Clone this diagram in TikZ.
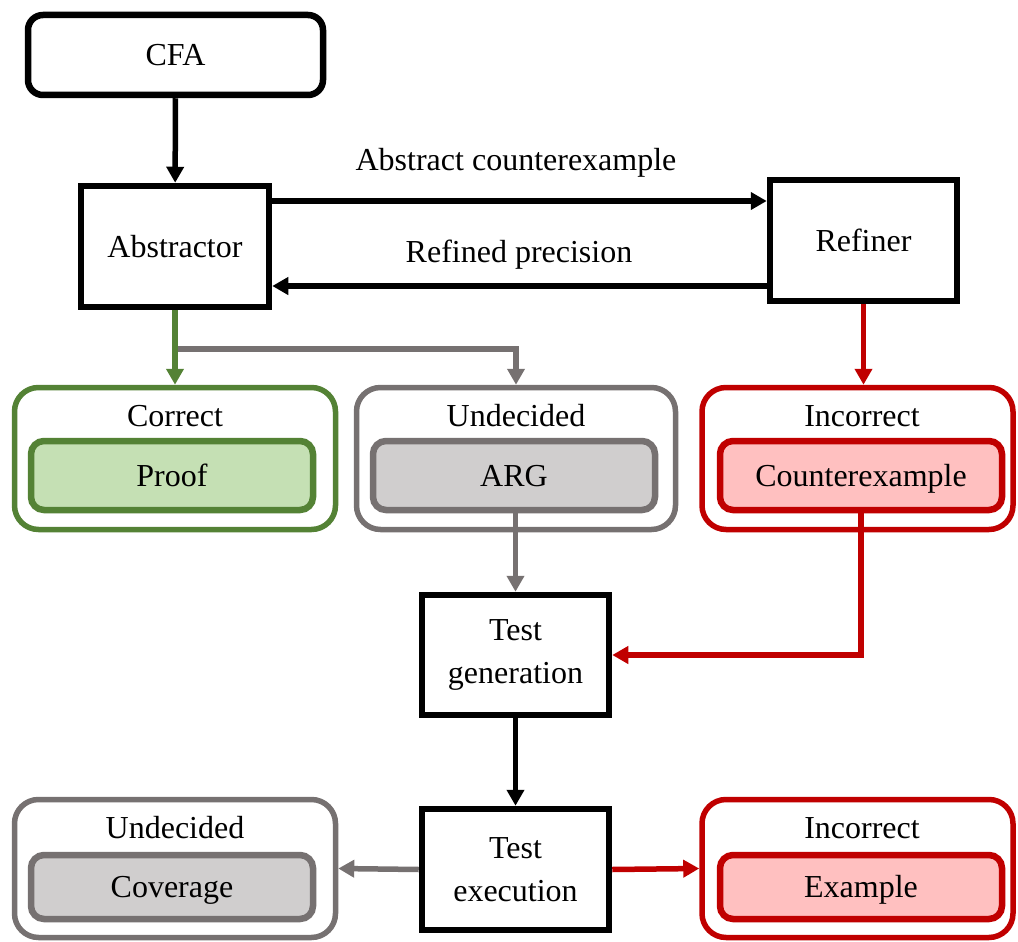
\documentclass[tikz,border=0pt]{standalone}
\usepackage{fontspec}
\setmainfont{Liberation Serif}
\usetikzlibrary{arrows.meta}

\definecolor{okgreen}{HTML}{548235}
\definecolor{okfill}{HTML}{C5E0B4}
\definecolor{midgray}{HTML}{767171}
\definecolor{grayfill}{HTML}{D0CECE}
\definecolor{badred}{HTML}{C00000}
\definecolor{redfill}{HTML}{FFC0C0}

\tikzset{
  txt/.style={font=\fontsize{32}{43}\selectfont, align=center, inner sep=0pt},
  block/.style={txt, draw=black, line width=6.5pt, fill=white},
  outerbox/.style={draw=#1, line width=5.5pt, rounded corners=24pt, fill=white, inner sep=0pt},
  innerbox/.style 2 args={txt, text height=22pt, text depth=1pt, draw=#1, fill=#2,
    line width=6.5pt, rounded corners=13pt, minimum width=282pt, minimum height=69pt},
  flow/.style={draw=#1, line width=5.5pt, -{Triangle[length=16pt,width=17pt]}},
  flow/.default=black
}

\begin{document}
\begin{tikzpicture}[x=1pt,y=-1pt]
  \useasboundingbox (0,0) rectangle (1018,942);

  % main processing blocks
  \node[block, rounded corners=15pt, minimum width=295pt, minimum height=80pt] (cfa) at (175.5,55) {CFA};
  \node[block, minimum width=188pt, minimum height=121pt] (abs) at (175,246.5) {Abstractor};
  \node[block, minimum width=187pt, minimum height=121pt] (ref) at (863.5,240.5) {Refiner};
  \node[block, minimum width=187pt, minimum height=120pt] (tg) at (515.5,655) {Test\\generation};
  \node[block, minimum width=187pt, minimum height=121pt] (te) at (515.5,869.5) {Test\\execution};

  % verdict groups (first row)
  \node[outerbox=okgreen, minimum width=321pt, minimum height=142pt] (correct) at (175,458.5) {};
  \node[outerbox=midgray, minimum width=319pt, minimum height=142pt] (undec1) at (516,458.5) {};
  \node[outerbox=badred, minimum width=311pt, minimum height=142pt] (incorr1) at (857.5,458.5) {};
  \node[txt] (lcorrect) at (175,416) {Correct};
  \node[txt] (lundec1) at (516,416) {Undecided};
  \node[txt] (lincorr1) at (862,416) {Incorrect};
  \node[innerbox={okgreen}{okfill}] (proof) at (172,475.5) {Proof};
  \node[innerbox={midgray}{grayfill}] (arg) at (514,475.5) {ARG};
  \node[innerbox={badred}{redfill}] (cex) at (861,475.5) {Counterexample};

  % verdict groups (second row)
  \node[outerbox=midgray, minimum width=321pt, minimum height=138pt] (undec2) at (175,868.5) {};
  \node[outerbox=badred, minimum width=311pt, minimum height=138pt] (incorr2) at (857.5,868.5) {};
  \node[txt] (lundec2) at (175,828) {Undecided};
  \node[txt] (lincorr2) at (862,828) {Incorrect};
  \node[innerbox={midgray}{grayfill}, minimum height=64pt] (cov) at (172,887) {Coverage};
  \node[innerbox={badred}{redfill}, minimum height=64pt] (ex) at (861,887) {Example};

  % CEGAR loop
  \draw[flow] (cfa) -- (abs);
  \draw[flow] (abs.east |- 0,201) -- (ref.west |- 0,201);
  \draw[flow] (ref.west |- 0,286) -- (abs.east |- 0,286);
  \node[txt] (lac) at (516,163) {Abstract counterexample};
  \node[txt] (lrp) at (519,255) {Refined precision};

  % outcomes of the analysis
  \draw[flow=midgray] (abs.south |- 0,349) -| (undec1.north);
  \draw[flow=okgreen] (abs.south) -- (correct.north);
  \draw[flow=badred] (ref.south) -- (ref.south |- incorr1.north);

  % test generation and execution
  \draw[flow=midgray] (arg.south -| tg.north) -- (tg.north);
  \draw[flow=badred] (cex.south) |- (tg.east);
  \draw[flow] (tg) -- (te);
  \draw[flow=midgray] (te.west) -- (undec2.east);
  \draw[flow=badred] (te.east) -- (incorr2.west);
\end{tikzpicture}
\end{document}
